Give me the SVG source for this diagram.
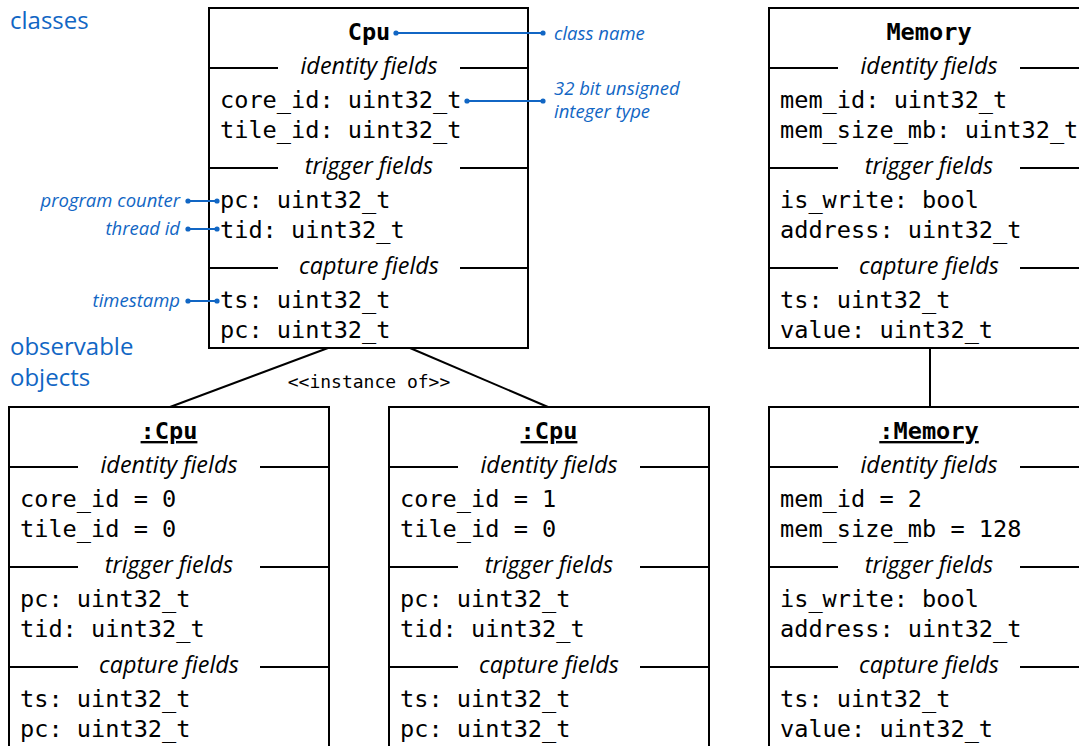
<svg xmlns="http://www.w3.org/2000/svg" width="1079" height="746" viewBox="0 0 1079 746">
  <style>
    .box { fill: #ffffff; stroke: #000000; stroke-width: 2; }
    .sep { stroke: #000000; stroke-width: 2; }
    .link { stroke: #000000; stroke-width: 2; fill: none; }
    .mono { font-family: "DejaVu Sans Mono", "Liberation Mono", monospace; font-size: 23.6px; fill: #000000; }
    .title { font-family: "DejaVu Sans Mono", "Liberation Mono", monospace; font-size: 23.6px; font-weight: bold; fill: #000000; text-anchor: middle; }
    .head { font-family: "Open Sans", "Noto Sans", sans-serif; font-style: italic; font-size: 23.4px; fill: #000000; text-anchor: middle; }
    .small { font-family: "DejaVu Sans Mono", "Liberation Mono", monospace; font-size: 18px; fill: #000000; text-anchor: middle; }
    .section { font-family: "Open Sans", "Noto Sans", sans-serif; font-size: 24px; fill: #1166c4; }
    .note { font-family: "Open Sans", "Noto Sans", sans-serif; font-style: italic; font-size: 18.5px; fill: #1166c4; }
    .pointer { stroke: #1166c4; stroke-width: 2; }
    .dot { fill: #1166c4; }
  </style>

  <!-- section captions -->
  <text class="section" x="10" y="29">classes</text>
  <text class="section" x="10" y="355">observable</text>
  <text class="section" x="10" y="386">objects</text>

  <!-- connectors between classes and their instances -->
  <g id="connectors">
    <line class="link" x1="328" y1="348" x2="170" y2="407"/>
    <line class="link" x1="410" y1="348" x2="548" y2="407"/>
    <text class="small" x="369" y="388">&lt;&lt;instance of&gt;&gt;</text>
    <line class="link" x1="930" y1="348" x2="930" y2="407"/>
  </g>

  <!-- Cpu class -->
  <g id="cpu-class">
    <rect class="box" x="209" y="8" width="319" height="340"/>
    <text class="title" x="369" y="40">Cpu</text>
    <line class="sep" x1="209" y1="68" x2="278" y2="68"/>
    <line class="sep" x1="460" y1="68" x2="528" y2="68"/>
    <text class="head" x="369" y="74">identity fields</text>
    <text class="mono" x="220" y="108">core_id: uint32_t</text>
    <text class="mono" x="220" y="138">tile_id: uint32_t</text>
    <line class="sep" x1="209" y1="168" x2="278" y2="168"/>
    <line class="sep" x1="460" y1="168" x2="528" y2="168"/>
    <text class="head" x="369" y="174">trigger fields</text>
    <text class="mono" x="220" y="208">pc: uint32_t</text>
    <text class="mono" x="220" y="238">tid: uint32_t</text>
    <line class="sep" x1="209" y1="268" x2="278" y2="268"/>
    <line class="sep" x1="460" y1="268" x2="528" y2="268"/>
    <text class="head" x="369" y="274">capture fields</text>
    <text class="mono" x="220" y="308">ts: uint32_t</text>
    <text class="mono" x="220" y="338">pc: uint32_t</text>
  </g>

  <!-- callouts on the Cpu class -->
  <g id="callouts">
    <line class="pointer" x1="396" y1="33" x2="543" y2="33"/>
    <circle class="dot" cx="396" cy="33" r="2.6"/>
    <circle class="dot" cx="543" cy="33" r="2.6"/>
    <text class="note" x="554" y="40">class name</text>

    <line class="pointer" x1="467" y1="101" x2="543" y2="101"/>
    <circle class="dot" cx="467" cy="101" r="2.6"/>
    <circle class="dot" cx="543" cy="101" r="2.6"/>
    <text class="note" x="554" y="95">32 bit unsigned</text>
    <text class="note" x="554" y="118">integer type</text>

    <line class="pointer" x1="188" y1="201" x2="217" y2="201"/>
    <circle class="dot" cx="188" cy="201" r="2.6"/>
    <circle class="dot" cx="217" cy="201" r="2.6"/>
    <text class="note" x="180" y="207" text-anchor="end">program counter</text>

    <line class="pointer" x1="188" y1="229" x2="217" y2="229"/>
    <circle class="dot" cx="188" cy="229" r="2.6"/>
    <circle class="dot" cx="217" cy="229" r="2.6"/>
    <text class="note" x="180" y="235" text-anchor="end">thread id</text>

    <line class="pointer" x1="188" y1="301" x2="217" y2="301"/>
    <circle class="dot" cx="188" cy="301" r="2.6"/>
    <circle class="dot" cx="217" cy="301" r="2.6"/>
    <text class="note" x="180" y="307" text-anchor="end">timestamp</text>
  </g>

  <!-- Memory class -->
  <g id="memory-class">
    <rect class="box" x="769" y="8" width="320" height="340"/>
    <text class="title" x="929" y="40">Memory</text>
    <line class="sep" x1="769" y1="68" x2="838" y2="68"/>
    <line class="sep" x1="1020" y1="68" x2="1089" y2="68"/>
    <text class="head" x="929" y="74">identity fields</text>
    <text class="mono" x="780" y="108">mem_id: uint32_t</text>
    <text class="mono" x="780" y="138">mem_size_mb: uint32_t</text>
    <line class="sep" x1="769" y1="168" x2="838" y2="168"/>
    <line class="sep" x1="1020" y1="168" x2="1089" y2="168"/>
    <text class="head" x="929" y="174">trigger fields</text>
    <text class="mono" x="780" y="208">is_write: bool</text>
    <text class="mono" x="780" y="238">address: uint32_t</text>
    <line class="sep" x1="769" y1="268" x2="838" y2="268"/>
    <line class="sep" x1="1020" y1="268" x2="1089" y2="268"/>
    <text class="head" x="929" y="274">capture fields</text>
    <text class="mono" x="780" y="308">ts: uint32_t</text>
    <text class="mono" x="780" y="338">value: uint32_t</text>
  </g>

  <!-- Cpu instance, core 0 -->
  <g id="cpu-object-0">
    <rect class="box" x="9" y="407" width="320" height="360"/>
    <text class="title" x="169" y="439" text-decoration="underline">:Cpu</text>
    <line class="sep" x1="9" y1="467" x2="78" y2="467"/>
    <line class="sep" x1="260" y1="467" x2="329" y2="467"/>
    <text class="head" x="169" y="473">identity fields</text>
    <text class="mono" x="20" y="507">core_id = 0</text>
    <text class="mono" x="20" y="537">tile_id = 0</text>
    <line class="sep" x1="9" y1="567" x2="78" y2="567"/>
    <line class="sep" x1="260" y1="567" x2="329" y2="567"/>
    <text class="head" x="169" y="573">trigger fields</text>
    <text class="mono" x="20" y="607">pc: uint32_t</text>
    <text class="mono" x="20" y="637">tid: uint32_t</text>
    <line class="sep" x1="9" y1="667" x2="78" y2="667"/>
    <line class="sep" x1="260" y1="667" x2="329" y2="667"/>
    <text class="head" x="169" y="673">capture fields</text>
    <text class="mono" x="20" y="707">ts: uint32_t</text>
    <text class="mono" x="20" y="737">pc: uint32_t</text>
  </g>

  <!-- Cpu instance, core 1 -->
  <g id="cpu-object-1">
    <rect class="box" x="389" y="407" width="320" height="360"/>
    <text class="title" x="549" y="439" text-decoration="underline">:Cpu</text>
    <line class="sep" x1="389" y1="467" x2="458" y2="467"/>
    <line class="sep" x1="640" y1="467" x2="709" y2="467"/>
    <text class="head" x="549" y="473">identity fields</text>
    <text class="mono" x="400" y="507">core_id = 1</text>
    <text class="mono" x="400" y="537">tile_id = 0</text>
    <line class="sep" x1="389" y1="567" x2="458" y2="567"/>
    <line class="sep" x1="640" y1="567" x2="709" y2="567"/>
    <text class="head" x="549" y="573">trigger fields</text>
    <text class="mono" x="400" y="607">pc: uint32_t</text>
    <text class="mono" x="400" y="637">tid: uint32_t</text>
    <line class="sep" x1="389" y1="667" x2="458" y2="667"/>
    <line class="sep" x1="640" y1="667" x2="709" y2="667"/>
    <text class="head" x="549" y="673">capture fields</text>
    <text class="mono" x="400" y="707">ts: uint32_t</text>
    <text class="mono" x="400" y="737">pc: uint32_t</text>
  </g>

  <!-- Memory instance -->
  <g id="memory-object">
    <rect class="box" x="769" y="407" width="320" height="360"/>
    <text class="title" x="929" y="439" text-decoration="underline">:Memory</text>
    <line class="sep" x1="769" y1="467" x2="838" y2="467"/>
    <line class="sep" x1="1020" y1="467" x2="1089" y2="467"/>
    <text class="head" x="929" y="473">identity fields</text>
    <text class="mono" x="780" y="507">mem_id = 2</text>
    <text class="mono" x="780" y="537">mem_size_mb = 128</text>
    <line class="sep" x1="769" y1="567" x2="838" y2="567"/>
    <line class="sep" x1="1020" y1="567" x2="1089" y2="567"/>
    <text class="head" x="929" y="573">trigger fields</text>
    <text class="mono" x="780" y="607">is_write: bool</text>
    <text class="mono" x="780" y="637">address: uint32_t</text>
    <line class="sep" x1="769" y1="667" x2="838" y2="667"/>
    <line class="sep" x1="1020" y1="667" x2="1089" y2="667"/>
    <text class="head" x="929" y="673">capture fields</text>
    <text class="mono" x="780" y="707">ts: uint32_t</text>
    <text class="mono" x="780" y="737">value: uint32_t</text>
  </g>
</svg>
